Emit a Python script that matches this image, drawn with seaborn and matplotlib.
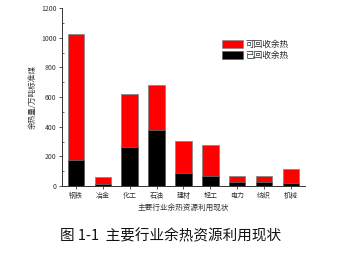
import matplotlib
matplotlib.use("Agg")
import matplotlib.pyplot as plt
import seaborn as sns
import pandas as pd
from matplotlib.patches import Patch
from matplotlib.ticker import MultipleLocator

categories = ["钢铁", "冶金", "化工", "石油", "建材", "轻工", "电力", "纺织", "机械"]
recoverable = [1028, 58, 620, 679, 304, 277, 70, 70, 117]
recovered = [178, 16, 261, 379, 85, 70, 25, 27, 18]

sns.set_style("white")
plt.rcParams['font.family'] = ['Noto Sans CJK SC', 'DejaVu Sans']

df = pd.DataFrame({"cat": categories, "total": recoverable, "done": recovered})

fig = plt.figure(figsize=(3.41, 2.58), dpi=100)
ax = fig.add_axes([0.182, 0.279, 0.712, 0.69])

sns.barplot(data=df, x="cat", y="total", color="#ff0000", saturation=1,
            width=0.62, edgecolor="#888888", linewidth=0.6, ax=ax)
sns.barplot(data=df, x="cat", y="done", color="#000000", saturation=1,
            width=0.62, edgecolor="#666666", linewidth=0.6, ax=ax)

ax.set_ylim(0, 1200)
ax.set_xlim(-0.52, 8.52)
ax.yaxis.set_major_locator(MultipleLocator(200))
ax.yaxis.set_minor_locator(MultipleLocator(100))
for s in ["top", "right"]:
    ax.spines[s].set_visible(False)
for s in ["left", "bottom"]:
    ax.spines[s].set_color("#333333")
    ax.spines[s].set_linewidth(0.7)
ax.tick_params(axis="both", which="major", direction="out", length=2.5, width=0.6,
               labelsize=5, pad=1.5, colors="#333333", left=True, bottom=True)
ax.tick_params(axis="y", which="minor", direction="in", length=1.5, width=0.5, left=True)
ax.set_ylabel("余热量/万吨标准煤", fontsize=5.5, labelpad=3, color="#333333")
ax.set_xlabel("主要行业余热资源利用现状", fontsize=5.5, labelpad=3, color="#333333")

handles = [Patch(facecolor="#ff0000", edgecolor="#888888", linewidth=0.5, label="可回收余热"),
           Patch(facecolor="#000000", edgecolor="#666666", linewidth=0.5, label="已回收余热")]
ax.legend(handles=handles, loc="upper left", bbox_to_anchor=(0.645, 0.84), frameon=False,
          fontsize=6.2, handlelength=2.4, handleheight=1.0, handletextpad=0.3,
          labelspacing=0.2, borderaxespad=0)

fig.text(0.5, 0.085, "图 1-1  主要行业余热资源利用现状", ha="center", va="center",
         fontsize=10.5, color="#111111")

fig.savefig("out.png", dpi=100)
